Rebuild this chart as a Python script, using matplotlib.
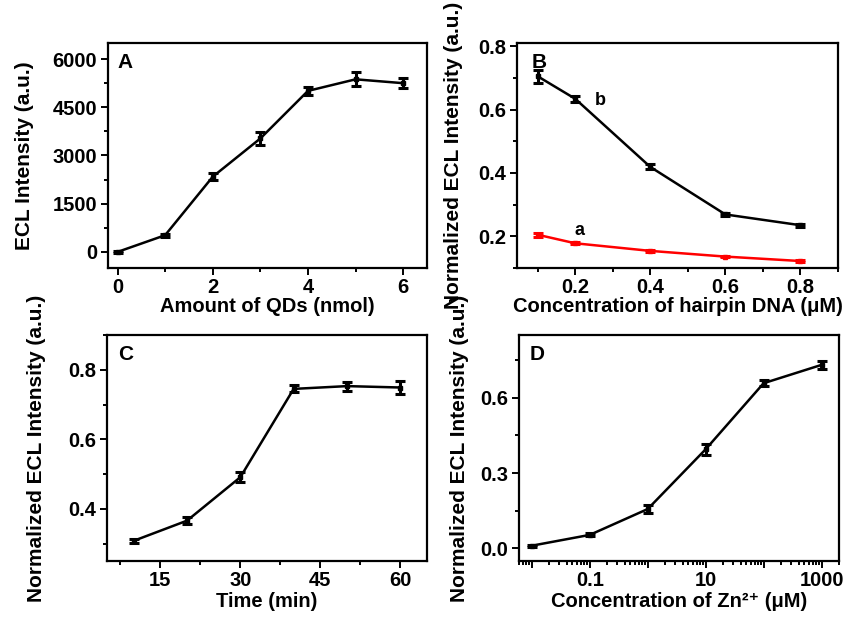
import matplotlib
matplotlib.use("Agg")
import matplotlib.pyplot as plt
from matplotlib.ticker import MultipleLocator, LogLocator, NullFormatter

plt.rcParams['font.family'] = ['Liberation Sans', 'DejaVu Sans']
plt.rcParams['font.weight'] = 'bold'
plt.rcParams['axes.labelweight'] = 'bold'
plt.rcParams['axes.linewidth'] = 1.6

# Panel A: ECL vs amount of QDs
qd_amount = [0, 1, 2, 3, 4, 5, 6]
qd_ecl = [0, 520, 2340, 3530, 5010, 5370, 5250]
qd_err = [20, 50, 100, 200, 130, 220, 150]

# Panel B: normalized ECL vs hairpin DNA concentration
hp_conc = [0.1, 0.2, 0.4, 0.6, 0.8]
hp_b = [0.705, 0.634, 0.419, 0.269, 0.235]
hp_b_err = [0.02, 0.01, 0.008, 0.006, 0.005]
hp_a = [0.205, 0.178, 0.154, 0.136, 0.122]
hp_a_err = [0.006, 0.003, 0.002, 0.002, 0.002]

# Panel C: normalized ECL vs time
time_min = [10, 20, 30, 40, 50, 60]
time_ecl = [0.308, 0.366, 0.491, 0.745, 0.753, 0.749]
time_err = [0.005, 0.01, 0.015, 0.01, 0.013, 0.02]

# Panel D: normalized ECL vs Zn2+ concentration
zn_conc = [0.01, 0.1, 1, 10, 100, 1000]
zn_ecl = [0.011, 0.054, 0.157, 0.395, 0.658, 0.731]
zn_err = [0.004, 0.006, 0.015, 0.022, 0.012, 0.015]
zn_labels = ['', '0.1', '', '10', '', '1000']

W, H = 849, 618
fig = plt.figure(figsize=(W / 100, H / 100), dpi=100)


def make_ax(l, t, r, b):
    return fig.add_axes([l / W, 1 - b / H, (r - l) / W, (b - t) / H])


axA = make_ax(108, 43, 427, 268)
axB = make_ax(517, 43, 838, 268)
axC = make_ax(107, 335, 427, 561)
axD = make_ax(519, 335, 839, 561)

tick_fs = 14.5
xlabel_fs = 14.5
ylabel_fs = 15


def errline(ax, x, y, e, color='black'):
    ax.errorbar(x, y, yerr=e, color=color, lw=1.8, marker='s', ms=3.5,
                capsize=3.5, capthick=2.2, elinewidth=2.2)


def style(ax):
    ax.tick_params(which='both', direction='out', top=False, right=False,
                   labelsize=tick_fs, width=1.4)
    ax.tick_params(axis='x', pad=2.5)
    ax.tick_params(axis='y', pad=3)
    ax.tick_params(which='major', length=5)
    ax.tick_params(which='minor', length=3)
    for lab in ax.get_xticklabels() + ax.get_yticklabels():
        lab.set_fontweight('bold')


# A
errline(axA, qd_amount, qd_ecl, qd_err)
axA.set_xlim(-0.2, 6.5)
axA.set_ylim(-500, 6500)
axA.set_xticks([0, 2, 4, 6])
axA.set_yticks([0, 1500, 3000, 4500, 6000])
axA.xaxis.set_minor_locator(MultipleLocator(1))
axA.yaxis.set_minor_locator(MultipleLocator(750))
axA.set_xlabel('Amount of QDs (nmol)', fontsize=xlabel_fs, labelpad=0)
axA.set_ylabel('ECL Intensity (a.u.)', fontsize=ylabel_fs, labelpad=13)
axA.text(0.031, 0.955, 'A', transform=axA.transAxes, fontsize=15,
         fontweight='bold', va='top')
style(axA)

# B
errline(axB, hp_conc, hp_b, hp_b_err)
errline(axB, hp_conc, hp_a, hp_a_err, color='#ff0000')
axB.set_xlim(0.045, 0.9)
axB.set_ylim(0.1, 0.81)
axB.set_xticks([0.2, 0.4, 0.6, 0.8])
axB.set_yticks([0.2, 0.4, 0.6, 0.8])
axB.xaxis.set_minor_locator(MultipleLocator(0.1))
axB.yaxis.set_minor_locator(MultipleLocator(0.1))
axB.set_xlabel('Concentration of hairpin DNA (\u03bcM)', fontsize=xlabel_fs, labelpad=0)
axB.set_ylabel('Normalized ECL Intensity (a.u.)', fontsize=ylabel_fs, labelpad=11)
axB.text(0.047, 0.955, 'B', transform=axB.transAxes, fontsize=15,
         fontweight='bold', va='top')
axB.text(0.268, 0.628, 'b', fontsize=13, fontweight='bold', ha='center', va='center')
axB.text(0.212, 0.218, 'a', fontsize=13, fontweight='bold', ha='center', va='center')
style(axB)

# C
errline(axC, time_min, time_ecl, time_err)
axC.set_xlim(5, 65)
axC.set_ylim(0.25, 0.9)
axC.set_xticks([15, 30, 45, 60])
axC.set_yticks([0.4, 0.6, 0.8])
axC.xaxis.set_minor_locator(MultipleLocator(7.5))
axC.yaxis.set_minor_locator(MultipleLocator(0.1))
axC.set_xlabel('Time (min)', fontsize=xlabel_fs, labelpad=1)
axC.set_ylabel('Normalized ECL Intensity (a.u.)', fontsize=ylabel_fs, labelpad=16)
axC.text(0.034, 0.955, 'C', transform=axC.transAxes, fontsize=15,
         fontweight='bold', va='top')
style(axC)

# D
errline(axD, zn_conc, zn_ecl, zn_err)
axD.set_xscale('log')
axD.set_xlim(0.006, 2000)
axD.set_ylim(-0.05, 0.85)
axD.set_xticks(zn_conc)
axD.set_xticklabels(zn_labels)
axD.xaxis.set_minor_locator(LogLocator(base=10, subs=range(2, 10), numticks=20))
axD.xaxis.set_minor_formatter(NullFormatter())
axD.set_yticks([0.0, 0.3, 0.6])
axD.yaxis.set_minor_locator(MultipleLocator(0.15))
axD.set_xlabel('Concentration of Zn\u00b2\u207a (\u03bcM)', fontsize=xlabel_fs, labelpad=1)
axD.set_ylabel('Normalized ECL Intensity (a.u.)', fontsize=ylabel_fs, labelpad=8)
axD.text(0.034, 0.955, 'D', transform=axD.transAxes, fontsize=15,
         fontweight='bold', va='top')
style(axD)

fig.savefig('out.png', dpi=100)
